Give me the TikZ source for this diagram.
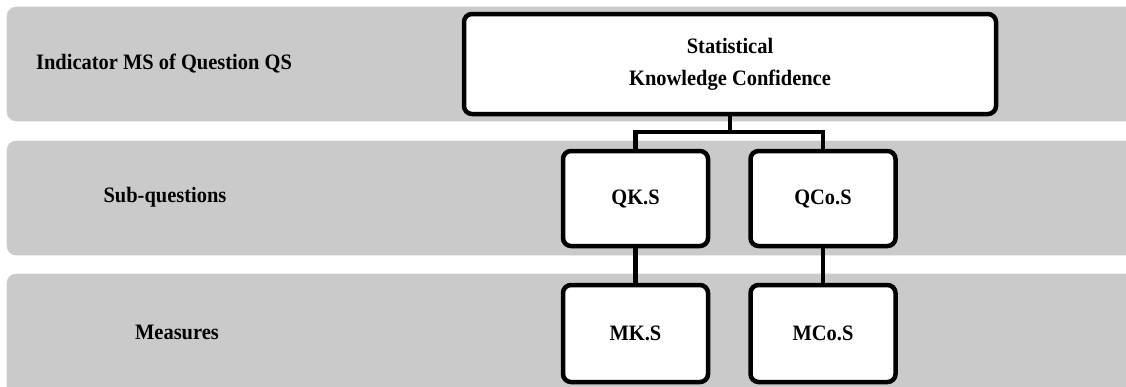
\documentclass[tikz,border=0pt]{standalone}
\usepackage{fontspec}
\setmainfont{Liberation Serif}
\newfontfamily\labelserif[FakeStretch=0.93]{Liberation Serif}
\definecolor{bandgray}{RGB}{202,202,202}
\begin{document}
\begin{tikzpicture}[x=1pt,y=-1pt,
  band/.style={fill=bandgray,draw=bandgray!90!white,line width=0.6pt,rounded corners=9pt},
  levelbox/.style={draw=black,fill=white,line width=4.5pt,rounded corners=8pt,
    align=center,font=\labelserif\bfseries\fontsize{22}{32}\selectfont,inner sep=0pt},
  bandlabel/.style={font=\labelserif\bfseries\fontsize{22}{26}\selectfont,anchor=center},
  link/.style={draw=black,line width=4.5pt}]
\useasboundingbox (0,0) rectangle (1126,386);
% background bands, running off the right edge
\path[band] (7,7) rectangle (1160,121);
\path[band] (7,141) rectangle (1160,255);
\path[band] (7,274) rectangle (1160,420);
% band labels
\node[bandlabel] (l1) at (164,64) {Indicator MS of Question QS};
\node[bandlabel] (l2) at (165,197) {Sub-questions};
\node[bandlabel] (l3) at (177,332) {Measures};
% hierarchy boxes
\node[levelbox,minimum width=532pt,minimum height=100pt] (top) at (730,64)
  {Statistical\\Knowledge Confidence};
\node[levelbox,minimum width=145pt,minimum height=95pt] (qk) at (635.5,198.5) {QK.S};
\node[levelbox,minimum width=145pt,minimum height=95pt] (qco) at (823,198.5) {QCo.S};
\node[levelbox,minimum width=145pt,minimum height=97pt] (mk) at (635.5,333.5) {MK.S};
\node[levelbox,minimum width=145pt,minimum height=97pt] (mco) at (823,333.5) {MCo.S};
% connectors
\coordinate (split) at (730,132);
\draw[link] (top.south) -- (split);
\draw[link] (qk.north) |- (split) -| (qco.north);
\draw[link] (qk.south) -- (mk.north);
\draw[link] (qco.south) -- (mco.north);
\end{tikzpicture}
\end{document}
